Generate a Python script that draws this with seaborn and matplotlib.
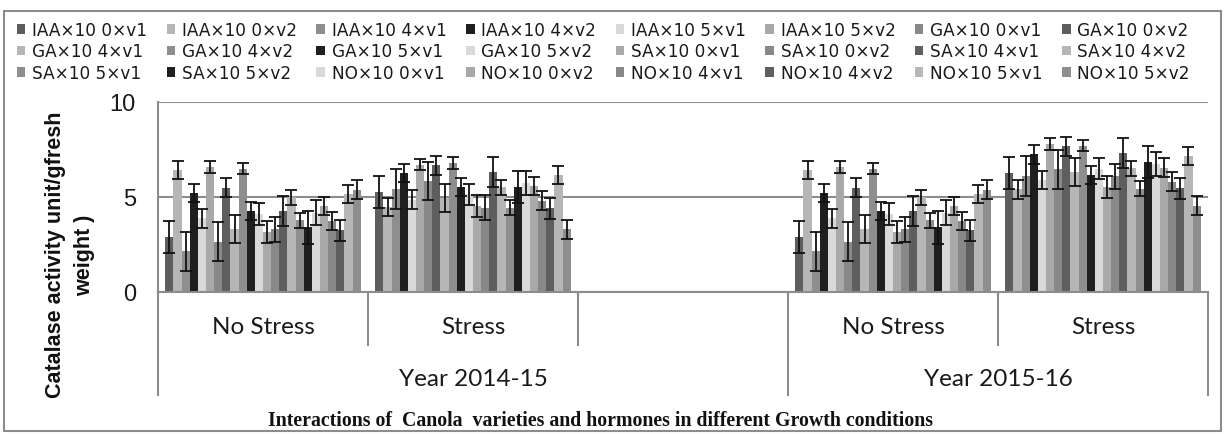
import matplotlib
matplotlib.use("Agg")
import matplotlib.pyplot as plt
from matplotlib.patches import Patch, Rectangle
import pandas as pd
import seaborn as sns

# ---- data -------------------------------------------------------------
series = [
    "IAA×10 0×v1", "IAA×10 0×v2", "IAA×10 4×v1", "IAA×10 4×v2",
    "IAA×10 5×v1", "IAA×10 5×v2", "GA×10 0×v1", "GA×10 0×v2",
    "GA×10 4×v1", "GA×10 4×v2", "GA×10 5×v1", "GA×10 5×v2",
    "SA×10 0×v1", "SA×10 0×v2", "SA×10 4×v1", "SA×10 4×v2",
    "SA×10 5×v1", "SA×10 5×v2", "NO×10 0×v1", "NO×10 0×v2",
    "NO×10 4×v1", "NO×10 4×v2", "NO×10 5×v1", "NO×10 5×v2",
]

slots = ["No Stress 2014-15", "Stress 2014-15", "spacer",
         "No Stress 2015-16", "Stress 2015-16"]
slot_labels = ["No Stress", "Stress", "", "No Stress", "Stress"]
year_labels = ["Year 2014-15", "Year 2015-16"]
year_spans = [(0, 2), (3, 4)]          # first / last slot of each year

no_stress_2014 = [2.90, 6.42, 2.14, 5.20, 3.88, 6.58, 2.65, 5.48, 3.30, 6.50,
                  4.26, 4.10, 3.14, 3.30, 4.25, 4.98, 3.77, 3.40, 4.17, 4.54,
                  3.73, 3.25, 5.14, 5.38]
stress_2014 = [5.25, 4.46, 5.42, 6.25, 4.86, 6.70, 5.84, 6.68, 4.93, 6.79,
               5.54, 5.14, 4.51, 4.44, 6.32, 5.51, 4.44, 5.53, 5.74, 5.56,
               4.81, 4.40, 6.16, 3.30]
no_stress_2015 = [2.90, 6.42, 2.14, 5.20, 3.88, 6.58, 2.65, 5.48, 3.30, 6.50,
                  4.26, 4.10, 3.14, 3.30, 4.25, 4.98, 3.77, 3.40, 4.17, 4.54,
                  3.73, 3.25, 5.14, 5.38]
stress_2015 = [6.26, 5.40, 6.10, 7.24, 5.89, 7.80, 6.46, 7.68, 6.30, 7.70,
               6.16, 6.49, 5.51, 6.09, 7.32, 6.51, 5.44, 6.86, 6.74, 6.55,
               5.81, 5.46, 7.18, 4.54]
std_err = [0.83, 0.48, 1.04, 0.48, 0.49, 0.30, 1.02, 0.50, 0.73, 0.30,
           0.47, 0.56, 0.58, 0.65, 0.78, 0.38, 0.39, 0.85, 0.65, 0.48,
           0.48, 0.55, 0.47, 0.50]

palette = [
    "#5e5e5e", "#b6b6b6", "#8e8e8e", "#1f1f1f", "#d9d9d9", "#a9a9a9", "#888888",
    "#5e5e5e", "#b6b6b6", "#8e8e8e", "#1f1f1f", "#d9d9d9", "#a9a9a9", "#888888",
    "#5e5e5e", "#b6b6b6", "#8e8e8e", "#1f1f1f", "#d9d9d9", "#a9a9a9", "#888888",
    "#5e5e5e", "#b6b6b6", "#8e8e8e",
]

rows = []
for slot, vals in zip([slots[0], slots[1], slots[3], slots[4]],
                      [no_stress_2014, stress_2014, no_stress_2015, stress_2015]):
    for name, v in zip(series, vals):
        rows.append({"slot": slot, "series": name, "value": v})
df = pd.DataFrame(rows)

# ---- figure -----------------------------------------------------------
sns.set_style("white")
plt.rcParams["font.family"] = ["Liberation Sans", "DejaVu Sans"]

W, H = 1225, 435
fig = plt.figure(figsize=(W / 100, H / 100), dpi=100)
ax = fig.add_axes([158 / W, 1 - 293 / H, (1208 - 158) / W, (293 - 103) / H])

sns.barplot(data=df, x="slot", y="value", hue="series", order=slots,
            hue_order=series, palette=palette, width=0.93, gap=0,
            errorbar=None, saturation=1, legend=False, linewidth=0, ax=ax)

# error bars on top of each bar, one container per series
bar_groups = list(ax.containers)
for i, cont in enumerate(bar_groups):
    xs = [p.get_x() + p.get_width() / 2 for p in cont]
    ys = [p.get_height() for p in cont]
    ax.errorbar(xs, ys, yerr=std_err[i], fmt="none", ecolor="#111111",
                elinewidth=1.3, capsize=4, capthick=1.3, zorder=4)

grey = "#8c8c8c"
ax.set_xlim(-0.5, len(slots) - 0.5)
ax.set_ylim(0, 10)
ax.set_yticks([0, 5, 10])
ax.yaxis.grid(True, color=grey, linewidth=1.5)
ax.xaxis.grid(False)
ax.set_axisbelow(True)
for side in ("top", "right"):
    ax.spines[side].set_visible(False)
for side in ("left", "bottom"):
    ax.spines[side].set_color(grey)
    ax.spines[side].set_linewidth(1.5)
ax.tick_params(axis="y", length=6, width=1.5, color=grey, pad=10,
               labelsize=17, labelcolor="#1a1a1a")
ax.tick_params(axis="x", length=0, labelbottom=False)
ax.set_xlabel("")
ax.set_ylabel("")

# two-level category axis
xt = ax.get_xaxis_transform()
short_edges = [0.5, 1.5, 3.5]
long_edges = [-0.5, 2.5, 4.5]
for e in short_edges:
    ax.plot([e, e], [0, -0.284], transform=xt, color=grey, lw=1.5,
            clip_on=False, solid_capstyle="butt")
for e in long_edges:
    ax.plot([e, e], [0, -0.547], transform=xt, color=grey, lw=1.5,
            clip_on=False, solid_capstyle="butt")
for k, lab in enumerate(slot_labels):
    ax.text(k, -0.184, lab, transform=xt, ha="center", va="center",
            family="Lato", fontsize=17.5, color="#1a1a1a")
for (a, b), lab in zip(year_spans, year_labels):
    ax.text((a + b) / 2, -0.453, lab, transform=xt, ha="center", va="center",
            family="Lato", fontsize=17.5, color="#1a1a1a")

fig.text(600 / W, 1 - 421 / H,
         "Interactions of  Canola  varieties and hormones in different Growth conditions",
         ha="center", va="center", family="Liberation Serif",
         fontweight="bold", fontsize=14.3, color="#111111")

fig.text(70 / W, 1 - 255 / H, "Catalase activity unit/gfresh\nweight )",
         rotation=90, ha="center", va="center", multialignment="center",
         fontweight="bold", fontsize=15.5, linespacing=1.45, color="#111111")

# legend, filled row by row
handles = [Patch(facecolor=c, edgecolor="none") for c in palette]
ncol, nrow = 8, 3
order = [r * ncol + c for c in range(ncol) for r in range(nrow)]
fig.legend([handles[i] for i in order], [series[i] for i in order],
           ncol=ncol, loc="upper left", bbox_to_anchor=(17 / W, 1 - 22 / H),
           frameon=False, prop={"family": "DejaVu Sans", "size": 12.2},
           handlelength=0.5, handleheight=0.5, handletextpad=0.4,
           columnspacing=1.15, labelspacing=0.2, borderpad=0,
           borderaxespad=0, labelcolor="#1a1a1a")

# chart-area border
fig.add_artist(Rectangle((4 / W, 3 / H), (1221 - 4) / W, (435 - 12 - 3) / H,
                         transform=fig.transFigure, fill=False,
                         edgecolor=grey, linewidth=1.5))

fig.savefig("out.png", dpi=100)
